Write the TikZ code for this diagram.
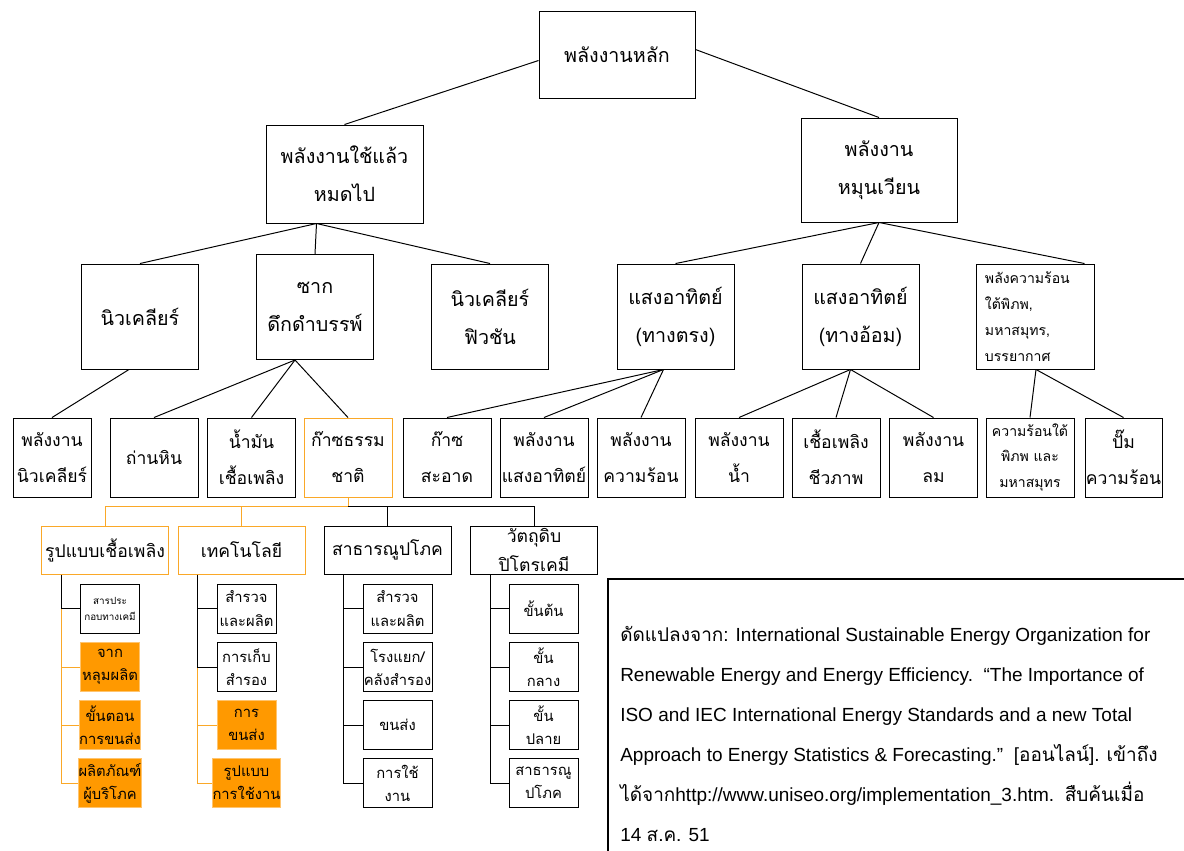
\documentclass[tikz,border=0pt]{standalone}
\usepackage{fontspec}
\setmainfont{Liberation Sans}
\newfontfamily\thaifont[Script=Thai]{Loma}
\newcommand\thai[1]{{\thaifont #1}}
\usetikzlibrary{positioning, calc}
\definecolor{gasfill}{RGB}{255,153,0}
\definecolor{gasline}{RGB}{250,168,40}
\definecolor{gasedge}{RGB}{255,196,110}
\tikzset{
  wh/.style 2 args={minimum width=#1*0.025cm, minimum height=#2*0.025cm},
  box/.style={draw, line width=0.7pt, align=center, inner sep=0pt},
  topbox/.style={box, font=\thaifont\fontsize{14}{27}\selectfont},
  midbox/.style={box, wh={88}{79}, font=\thaifont\fontsize{12.5}{25.6}\selectfont},
  groupbox/.style={box, wh={127}{48}, font=\thaifont\fontsize{12.5}{25.6}\selectfont},
  leafbox/.style={box, wh={59}{49}, font=\thaifont\fontsize{10.5}{16.4}\selectfont},
  gasbox/.style={draw=gasline},
  hotleaf/.style={draw=gasedge, fill=gasfill},
  link/.style={line width=0.7pt},
  olink/.style={link, gasline},
}

\begin{document}
\begin{tikzpicture}[x=0.025cm, y=-0.025cm]
  \useasboundingbox (0,0) rectangle (1184,850);

  % top levels
  \node[topbox, wh={156}{87}] (main) at (617,54.5) {พลังงานหลัก};
  \node[topbox, wh={157}{98}] (finite) at (344.5,174) {พลังงานใช้แล้ว\\หมดไป};
  \node[topbox, wh={156}{104}] (renew) at (879,170) {พลังงาน\\หมุนเวียน};

  \node[topbox, wh={117}{105}] (nuclear) at (140,316.5) {นิวเคลียร์};
  \node[topbox, wh={117}{105}] (fossil) at (315,307) {ซาก\\ดึกดำบรรพ์};
  \node[topbox, wh={117}{105}] (fusion) at (490,316.5) {นิวเคลียร์\\ฟิวชัน};
  \node[topbox, wh={117}{105}] (direct) at (675.5,316.5) {แสงอาทิตย์\\(ทางตรง)};
  \node[topbox, wh={117}{105}] (indirect) at (860.5,316.5) {แสงอาทิตย์\\(ทางอ้อม)};
  \node[box, wh={118}{105}, align=left, text width=2.5cm, inner xsep=0.225cm,
        font=\thaifont\fontsize{10}{18.5}\selectfont] (geo) at (1035,316.5)
        {พลังความร้อน\\ใต้พิภพ,\\มหาสมุทร,\\บรรยากาศ};

  % sources
  \node[midbox, wh={78}{79}] (nucpower) at (52,457.5) {พลังงาน\\นิวเคลียร์};
  \node[midbox] (coal) at (154,457.5) {ถ่านหิน};
  \node[midbox] (oil) at (251.5,457.5) {น้ำมัน\\เชื้อเพลิง};
  \node[midbox, gasbox] (gas) at (348,457.5) {ก๊าซธรรม\\ชาติ};
  \node[midbox] (cleangas) at (447,457.5) {ก๊าซ\\สะอาด};
  \node[midbox] (solar) at (544,457.5) {พลังงาน\\แสงอาทิตย์};
  \node[midbox] (heat) at (641,457.5) {พลังงาน\\ความร้อน};
  \node[midbox] (hydro) at (739,457.5) {พลังงาน\\น้ำ};
  \node[midbox] (bio) at (836,457.5) {เชื้อเพลิง\\ชีวภาพ};
  \node[midbox] (wind) at (933.5,457.5) {พลังงาน\\ลม};
  \node[midbox, font=\thaifont\fontsize{10}{18}\selectfont] (seaheat) at (1030,457.5)
        {ความร้อนใต้\\พิภพ และ\\มหาสมุทร};
  \node[midbox, wh={77}{79}] (pump) at (1123.5,457.5) {ปั๊ม\\ความร้อน};

  % natural gas chain
  \node[groupbox, gasbox] (form) at (105,550) {รูปแบบเชื้อเพลิง};
  \node[groupbox, gasbox] (tech) at (241.5,550) {เทคโนโลยี};
  \node[groupbox] (util) at (387.5,550) {สาธารณูปโภค};
  \node[groupbox, font=\thaifont\fontsize{12.5}{20}\selectfont] (petro) at (534,550) {วัตถุดิบ\\ปิโตรเคมี};

  \node[leafbox, font=\thaifont\fontsize{7}{11.4}\selectfont] (form1) at (110,608.5) {สารประ\\กอบทางเคมี};
  \node[leafbox, hotleaf] (form2) at (110,667) {จาก\\หลุมผลิต};
  \node[leafbox, hotleaf] (form3) at (110,725) {ขั้นตอน\\การขนส่ง};
  \node[leafbox, hotleaf] (form4) at (110,783) {ผลิตภัณฑ์\\ผู้บริโภค};

  \node[leafbox] (tech1) at (246.5,608.5) {สำรวจ\\และผลิต};
  \node[leafbox] (tech2) at (246.5,667) {การเก็บ\\สำรอง};
  \node[leafbox, hotleaf] (tech3) at (246.5,725) {การ\\ขนส่ง};
  \node[leafbox, hotleaf] (tech4) at (246.5,783) {รูปแบบ\\การใช้งาน};

  \node[leafbox, wh={69}{49}] (util1) at (397.5,608.5) {สำรวจ\\และผลิต};
  \node[leafbox, wh={69}{49}] (util2) at (397.5,667) {โรงแยก/\\คลังสำรอง};
  \node[leafbox, wh={69}{49}] (util3) at (397.5,725) {ขนส่ง};
  \node[leafbox, wh={69}{49}] (util4) at (397.5,783) {การใช้\\งาน};

  \node[leafbox, wh={69}{49}] (petro1) at (543.5,608.5) {ขั้นต้น};
  \node[leafbox, wh={69}{49}] (petro2) at (543.5,667) {ขั้น\\กลาง};
  \node[leafbox, wh={69}{49}] (petro3) at (543.5,725) {ขั้น\\ปลาย};
  \node[leafbox, wh={69}{49}] (petro4) at (543.5,783) {สาธารณู\\ปโภค};

  % links
  \draw[link] ($(main.west)+(0,6)$) -- (finite.north);
  \draw[link] ($(main.east)+(0,-5)$) -- (renew.north);
  \foreach \n in {nuclear, fossil, fusion}
    \draw[link] ($(finite.south)+(-28,0)$) -- (\n.north);
  \foreach \n in {direct, indirect}
    \draw[link] (renew.south) -- (\n.north);
  \draw[link] (renew.south) -- ($(geo.north east)+(-10,0)$);
  \draw[link] ($(nuclear.south)+(-11,0)$) -- (nucpower.north);
  \foreach \n in {coal, oil, gas}
    \draw[link] ($(fossil.south)+(-20,0)$) -- (\n.north);
  \foreach \n in {cleangas, solar, heat}
    \draw[link] ($(direct.south)+(-12,0)$) -- (\n.north);
  \foreach \n in {hydro, bio, wind}
    \draw[link] ($(indirect.south)+(-10,0)$) -- (\n.north);
  \foreach \n in {seaheat, pump}
    \draw[link] ($(geo.south)+(1,0)$) -- (\n.north);

  \draw[olink] (gas.south) -- ++(0,9) coordinate (hub) -| (form.north);
  \draw[olink] (hub) -| (tech.north);
  \draw[link] (hub) -| (util.north);
  \draw[link] (hub) -| (petro.north);

  \foreach \n in {form2, form3, form4}
    \draw[olink] ($(form.south west)+(20,0)$) |- (\n.west);
  \draw[link] ($(form.south west)+(20,0)$) |- (form1.west);
  \foreach \n in {tech3, tech4}
    \draw[olink] ($(tech.south west)+(20,0)$) |- (\n.west);
  \foreach \n in {tech1, tech2}
    \draw[link] ($(tech.south west)+(20,0)$) |- (\n.west);
  \foreach \n in {util1, util2, util3, util4}
    \draw[link] ($(util.south west)+(20,0)$) |- (\n.west);
  \foreach \n in {petro1, petro2, petro3, petro4}
    \draw[link] ($(petro.south west)+(20,0)$) |- (\n.west);

  % source note
  \draw[line width=1.5pt] (608,579) rectangle (1200,870);
  \node[anchor=north west, align=left, inner sep=0pt,
        font=\fontsize{13.5}{28.5}\selectfont] (cite) at (620,626)
    {\thai{ดัดแปลงจาก}: International Sustainable Energy Organization for\\
     Renewable Energy and Energy Efficiency.\ \ “The Importance of\\
     ISO and IEC International Energy Standards and a new Total\\
     Approach to Energy Statistics \& Forecasting.”\ \ [\thai{ออนไลน์}]. \thai{เข้าถึง}\\
     \thai{ได้จาก}http://www.uniseo.org/implementation\_3.htm.\ \ \thai{สืบค้นเมื่อ}\\
     14 \thai{ส.ค.} 51};
\end{tikzpicture}
\end{document}
